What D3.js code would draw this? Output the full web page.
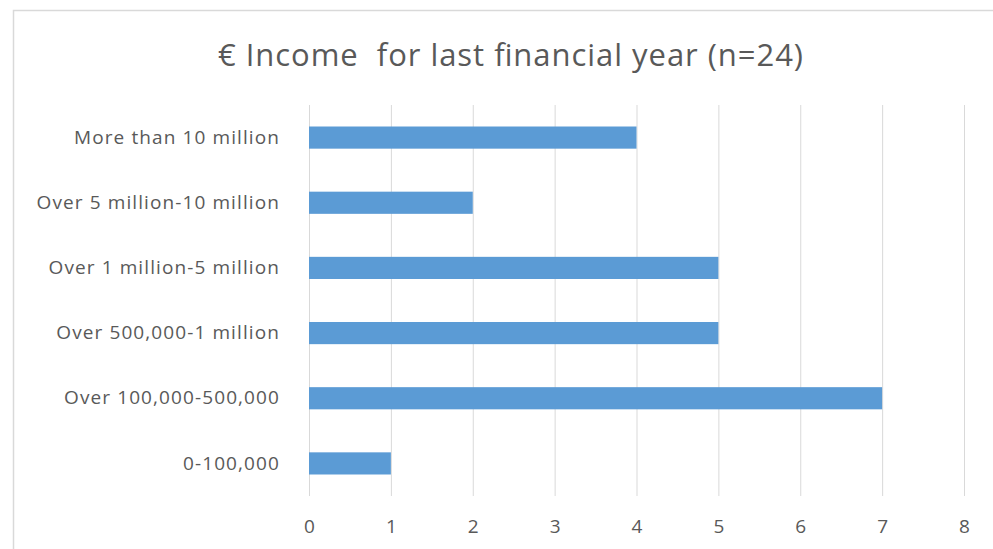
<!DOCTYPE html>
<html><head><meta charset="utf-8">
<script src="https://cdn.jsdelivr.net/npm/d3@7"></script>
<style>html,body{margin:0;padding:0;background:#fff;}svg{display:block;}</style>
</head><body>
<svg id="c" width="993" height="549"></svg>
<script>
const title = "€ Income  for last financial year (n=24)";
const categories = ["More than 10 million","Over 5 million-10 million","Over 1 million-5 million","Over 500,000-1 million","Over 100,000-500,000","0-100,000"];
const values = [4, 2, 5, 5, 7, 1];
const xTicks = [0,1,2,3,4,5,6,7,8];

(function(){
const svg = d3.select("#c");
const W = 993, H = 549;
svg.append("rect").attr("x",13.5).attr("y",10.5).attr("width",W).attr("height",H)
  .attr("fill","#fff").attr("stroke","#d9d9d9").attr("stroke-width",1.5);

const pLeft = 309, pRight = 964, pTop = 105, pBottom = 496;
const x = d3.scaleLinear().domain([0,8]).range([pLeft,pRight]);
const y = d3.scaleBand().domain(categories).range([pTop,pBottom]).paddingInner(0.66).paddingOuter(0.33);

const font = "'Open Sans', 'Liberation Sans', sans-serif";
svg.append("g").selectAll("line").data(xTicks).join("line")
  .attr("x1",d=>x(d)+0.5).attr("x2",d=>x(d)+0.5).attr("y1",pTop).attr("y2",pBottom)
  .attr("stroke","#d9d9d9").attr("stroke-width",1);

svg.append("g").selectAll("rect").data(values).join("rect")
  .attr("x",x(0)).attr("y",(d,i)=>y(categories[i]))
  .attr("width",d=>x(d)-x(0)).attr("height",y.bandwidth())
  .attr("fill","#5b9bd5");

const xAxis = d3.axisBottom(x).tickValues(xTicks).tickSize(0).tickPadding(0);
const gx = svg.append("g").attr("transform",`translate(0,${pBottom+23})`).call(xAxis);
gx.select(".domain").remove();
gx.selectAll("text").attr("font-family",font).attr("font-size",19).attr("fill","#595959").attr("dy","0.71em");

const yAxis = d3.axisLeft(y).tickSize(0).tickPadding(0);
const gy = svg.append("g").attr("transform",`translate(${pLeft-29},0)`).call(yAxis);
gy.select(".domain").remove();
gy.selectAll("text").attr("font-family",font).attr("font-size",19).attr("letter-spacing","1.1px").attr("fill","#595959");

svg.append("text").attr("x",510.5).attr("y",66).attr("text-anchor","middle")
  .attr("xml:space","preserve")
  .attr("font-family",font).attr("font-size",31).attr("fill","#595959")
  .attr("textLength",585).attr("lengthAdjust","spacing").text(title);
})();
</script>
</body></html>
